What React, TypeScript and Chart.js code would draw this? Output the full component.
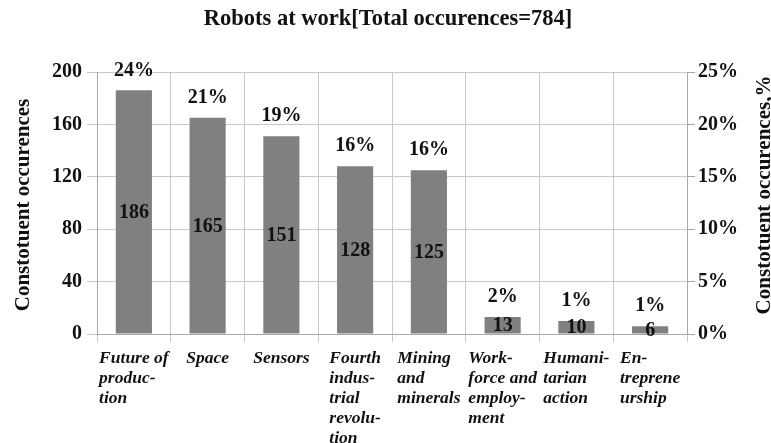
import React, { useEffect, useRef } from "react";
import { Chart, registerables } from "chart.js";

Chart.register(...registerables);

const TITLE = "Robots at work[Total occurences=784]";
const Y_TITLE = "Constotuent occurences";
const Y1_TITLE = "Constotuent occurences,%";

const categories: string[][] = [
  ["Future of", "produc-", "tion"],
  ["Space"],
  ["Sensors"],
  ["Fourth", "indus-", "trial", "revolu-", "tion"],
  ["Mining", "and", "minerals"],
  ["Work-", "force and", "employ-", "ment"],
  ["Humani-", "tarian", "action"],
  ["En-", "treprene", "urship"],
];
const counts = [186, 165, 151, 128, 125, 13, 10, 6];
const pctLabels = ["24%", "21%", "19%", "16%", "16%", "2%", "1%", "1%"];

const FONT = "'Liberation Serif', 'Times New Roman', serif";

const labelPlugin = {
  id: "labels",
  afterDraw(chart: any) {
    const ctx = chart.ctx;
    const area = chart.chartArea;
    const xScale = chart.scales.x;
    const meta = chart.getDatasetMeta(0);
    ctx.save();
    ctx.fillStyle = "#111";
    // title
    ctx.font = `bold 22.5px ${FONT}`;
    ctx.textAlign = "center";
    ctx.textBaseline = "middle";
    ctx.fillText(TITLE, 388, 19);
    // y titles
    ctx.font = `bold 21px ${FONT}`;
    ctx.save();
    ctx.translate(24, 205);
    ctx.rotate(-Math.PI / 2);
    ctx.fillText(Y_TITLE, 0, 0);
    ctx.restore();
    ctx.save();
    ctx.translate(765, 195);
    ctx.rotate(-Math.PI / 2);
    ctx.fillText(Y1_TITLE, 0, 0);
    ctx.restore();
    // bar labels
    ctx.font = `bold 20px ${FONT}`;
    meta.data.forEach((bar: any, i: number) => {
      const base = bar.base;
      const top = bar.y;
      ctx.fillText(String(counts[i]), bar.x, (top + base) / 2 + 1);
      ctx.fillText(pctLabels[i], bar.x, top - 20);
    });
    // category labels
    ctx.font = `italic bold 17.5px ${FONT}`;
    ctx.textAlign = "left";
    categories.forEach((lines, i) => {
      const cx = xScale.getPixelForValue(i);
      const w = Math.max(...lines.map((l) => ctx.measureText(l).width));
      const x0 = cx - w / 2;
      lines.forEach((l, j) => {
        ctx.fillText(l, x0, area.bottom + 24 + j * 20);
      });
    });
    ctx.restore();
  },
};

export default function App() {
  const ref = useRef<HTMLCanvasElement>(null);
  useEffect(() => {
    if (!ref.current) return;
    const chart = new Chart(ref.current, {
      type: "bar",
      data: {
        labels: categories.map((c) => c.join(" ")),
        datasets: [
          {
            data: counts,
            backgroundColor: "#808080",
            barPercentage: 0.49,
            categoryPercentage: 1,
            yAxisID: "y",
          },
        ],
      },
      options: {
        animation: false,
        responsive: true,
        maintainAspectRatio: false,
        layout: { padding: { top: 72, left: 0, right: 0, bottom: 0 } },
        plugins: {
          legend: { display: false },
          tooltip: { enabled: false },
          title: { display: false },
        },
        scales: {
          x: {
            offset: true,
            grid: {
              offset: true,
              color: "#c8c8c8",
              tickLength: 8,
              drawTicks: true,
            },
            border: { color: "#a8a8a8" },
            ticks: { display: false },
            afterFit: (s: any) => {
              s.height = 109;
            },
          },
          y: {
            position: "left",
            min: 0,
            max: 200,
            ticks: {
              stepSize: 40,
              color: "#111",
              font: { family: FONT, size: 20, weight: "bold" },
              padding: 5,
            },
            grid: { color: "#c8c8c8", tickLength: 10 },
            border: { color: "#a8a8a8" },
            afterFit: (s: any) => {
              s.width = 97;
            },
          },
          y1: {
            position: "right",
            min: 0,
            max: 25,
            ticks: {
              stepSize: 5,
              color: "#111",
              font: { family: FONT, size: 20, weight: "bold" },
              padding: 3,
              callback: (v: any) => v + "%",
            },
            grid: { drawOnChartArea: false, color: "#a8a8a8", tickLength: 8 },
            border: { color: "#a8a8a8" },
            afterFit: (s: any) => {
              s.width = 84;
            },
          },
        },
      } as any,
      plugins: [labelPlugin],
    });
    return () => chart.destroy();
  }, []);
  return (
    <div style={{ position: "fixed", left: 0, top: 0, width: 771, height: 443, background: "#fff" }}>
      <canvas ref={ref} />
    </div>
  );
}
